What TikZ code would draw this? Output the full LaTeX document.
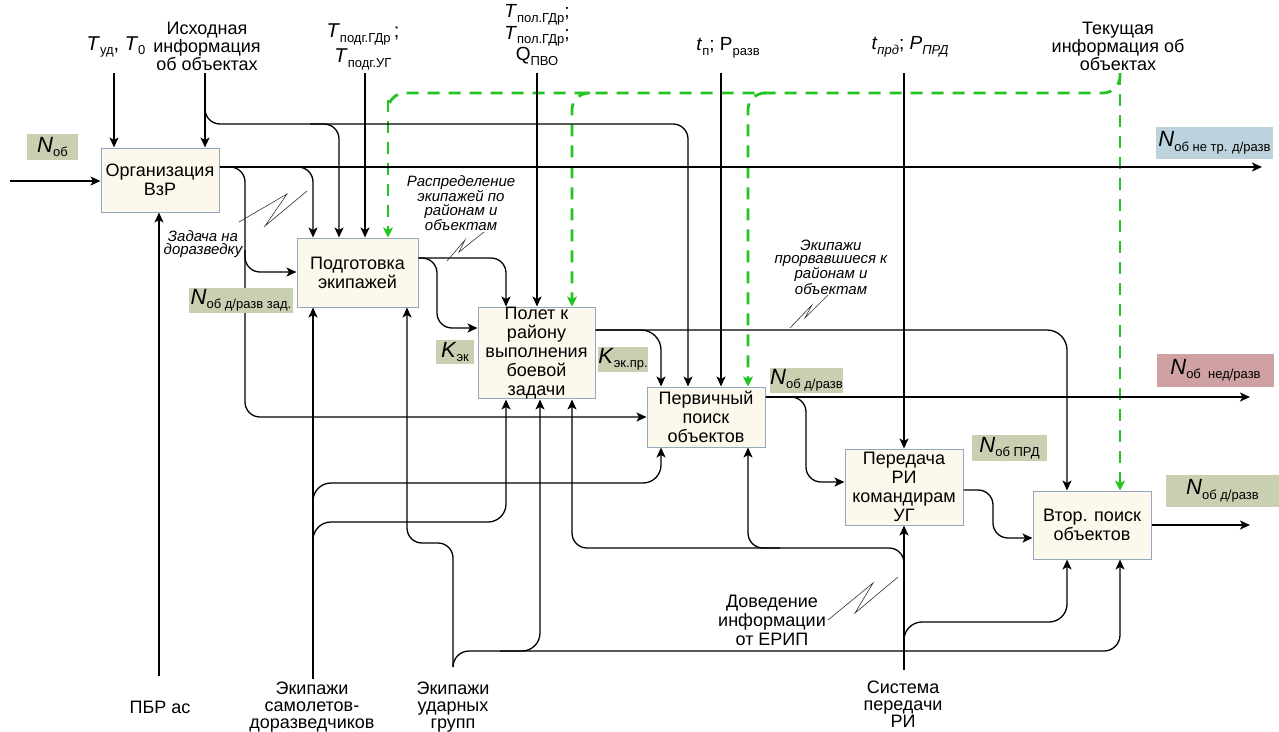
\documentclass[tikz,border=0pt]{standalone}
\usepackage{fontspec}
\setmainfont{Liberation Sans}
\usetikzlibrary{arrows.meta}
\definecolor{boxfill}{HTML}{FCF8EB}
\definecolor{boxline}{HTML}{93A7BD}
\definecolor{labg}{HTML}{C9CFB1}
\definecolor{labb}{HTML}{BCD3DD}
\definecolor{labp}{HTML}{CFA1A3}
\definecolor{grn}{HTML}{22C422}
\newcommand\lsub[1]{\raisebox{-4.5pt}{\fontsize{13}{13}\selectfont #1}}
\tikzset{
  box/.style={draw=boxline, fill=boxfill, line width=1pt, inner sep=0pt, align=center, font=\fontsize{18}{19}\selectfont},
  txt/.style={inner sep=0pt, align=center, font=\fontsize{18}{18}\selectfont},
  itl/.style={inner sep=0pt, align=center, font=\fontsize{15}{13.5}\selectfont\itshape},
  vl/.style={inner sep=0pt, font=\fontsize{22}{22}\selectfont},
  arr/.style={line width=1.3pt, -{Stealth[length=10pt,width=9pt,inset=2.5pt]}},
  rc/.style={rounded corners=15pt},
  gdash/.style={draw=grn, line width=2.8pt, dash pattern=on 12pt off 9pt, rounded corners=17pt, -{Stealth[length=10pt,width=10pt,inset=2.5pt,fill=grn]}},
  gline/.style={draw=grn, line width=2.8pt, dash pattern=on 12pt off 9pt, rounded corners=17pt},
  zig/.style={line width=0.6pt, draw=black!80}
}
\begin{document}
\begin{tikzpicture}[x=1pt,y=-1pt]
\useasboundingbox (0,0) rectangle (1279,731);
\fill[white] (0,0) rectangle (1279,731);

% free end coordinates
\coordinate (tud) at (114,73);
\coordinate (isx) at (205,73);
\coordinate (tpodg) at (365,73);
\coordinate (qpvo) at (537,73);
\coordinate (tp) at (721,73);
\coordinate (tprd) at (904,73);
\coordinate (tek) at (1120,73);
\coordinate (in0) at (10,181);
\coordinate (out1) at (1262,167);
\coordinate (out2) at (1250,397);
\coordinate (out3) at (1250,525);
\coordinate (pbr) at (159,676);
\coordinate (eks) at (313,679);
\coordinate (eku) at (453,667);
\coordinate (sys) at (904,670);

% boxes
\node[box, minimum width=118pt, minimum height=64pt] (ORG) at (160,180) {Организация\\ВзР};
\node[box, minimum width=121pt, minimum height=69pt] (PODG) at (357.5,272.5) {Подготовка\\экипажей};
\node[box, minimum width=117pt, minimum height=90pt] (POLET) at (536.5,353) {Полет к\\району\\выполнения\\боевой\\задачи};
\node[box, minimum width=118pt, minimum height=60pt] (PERV) at (706,417) {Первичный\\поиск\\объектов};
\node[box, minimum width=118pt, minimum height=76pt] (PERED) at (904,487) {Передача\\РИ\\командирам\\УГ};
\node[box, minimum width=118pt, minimum height=68pt] (VTOR) at (1092,525) {Втор. поиск\\объектов};

% green dashed (current information)
\draw[gline] (tek) -- (1120,93) -- (388,93) -- (388,110);
\draw[gdash] (388,100) -- (388,0 |- PODG.north);
\draw[gdash] (tek) -- (tek |- VTOR.north);
\draw[gdash] (590,93) -- (572,93) -- (572,0 |- POLET.north);
\draw[gdash] (766,93) -- (748,93) -- (748,0 |- PERV.north);

% inputs / controls to ORG
\draw[arr] (in0) -- (ORG.west |- in0);
\draw[arr] (tud) -- (tud |- ORG.north);
\draw[arr] (isx) -- (isx |- ORG.north);
\draw[arr,rc] (isx) -- (205,124) -- (688,124) -- (688,0 |- PERV.north);
\draw[arr,rc] (310,124) -- (339,124) -- (339,0 |- PODG.north);

% ORG output
\draw[arr] (ORG.east |- out1) -- (out1);
\draw[arr,rc] (285,167) -- (313,167) -- (313,0 |- PODG.north);
\draw[arr,rc] (ORG.east |- out1) -- (245,167) -- (245,417) -- (PERV.west |- 0,417);
\draw[arr,rc] (245,250) -- (245,272) -- (PODG.west |- 0,272);
\draw[arr] (tpodg) -- (tpodg |- PODG.north);

% PODG output
\draw[arr,rc] (PODG.east |- 0,258) -- (506,258) -- (506,0 |- POLET.north);
\draw[arr,rc] (PODG.east |- 0,258) -- (437,258) -- (437,328) -- (POLET.west |- 0,328);
\draw[arr] (qpvo) -- (qpvo |- POLET.north);

% POLET output
\draw[arr,rounded corners=20pt] (POLET.east |- 0,330) -- (1067,330) -- (1067,0 |- VTOR.north);
\draw[arr,rounded corners=20pt] (POLET.east |- 0,330) -- (661,330) -- (661,0 |- PERV.north);
\draw[arr] (tp) -- (tp |- PERV.north);

% PERV output
\draw[arr] (PERV.east |- out2) -- (out2);
\draw[arr,rc] (PERV.east |- out2) -- (806,397) -- (806,482) -- (PERED.west |- 0,482);
\draw[arr] (tprd) -- (tprd |- PERED.north);

% PERED output
\draw[arr,rc] (PERED.east |- 0,490) -- (993,490) -- (993,538) -- (VTOR.west |- 0,538);
\draw[arr] (VTOR.east |- out3) -- (out3);

% mechanisms
\draw[arr] (pbr) -- (pbr |- ORG.south);
\draw[arr] (eks) -- (eks |- PODG.south);
\draw[arr,rounded corners=18pt] (313,505) -- (313,483) -- (661,483) -- (661,0 |- PERV.south);
\draw[arr,rounded corners=18pt] (313,543) -- (313,522) -- (506,522) -- (506,0 |- POLET.south);
\draw[arr,rc] (eku) -- (453,543) -- (407,543) -- (407,0 |- PODG.south);
\draw[arr,rounded corners=16pt] (eku) -- (453,651) -- (1120,651) -- (1120,0 |- VTOR.south);
\draw[arr,rounded corners=18pt] (500,651) -- (540,651) -- (540,0 |- POLET.south);
\draw[arr] (sys) -- (sys |- PERED.south);
\draw[arr,rc] (904,575) -- (904,548) -- (572,548) -- (572,0 |- POLET.south);
\draw[arr,rc] (780,548) -- (748,548) -- (748,0 |- PERV.south);
\draw[arr,rounded corners=18pt] (904,645) -- (904,622) -- (1067,622) -- (1067,0 |- VTOR.south);

% squiggles
\draw[zig] (239,222) -- (287,194) -- (265,226) -- (307,191);
\draw[zig] (447,261) -- (465,240) -- (459,252) -- (484,232);
\draw[zig] (790,328) -- (812,305) -- (805,318) -- (828,295);
\draw[zig] (828,620) -- (873,583) -- (855,613) -- (898,577);

% top labels
\node[txt] (Ltud) at (116,47) {\fontsize{20}{20}\selectfont\textit{T}\lsub{уд}, \textit{T}\lsub{0}};
\node[txt] (Lisx) at (207,46) {Исходная\\информация\\об объектах};
\node[txt, font=\fontsize{20}{25}\selectfont] (Ltpodg) at (363,47) {\textit{T}\lsub{подг.ГДр}\,;\\\textit{T}\lsub{подг.УГ}};
\node[txt, font=\fontsize{19}{19}\selectfont] (Lqpvo) at (537,35) {\textit{T}\lsub{пол.ГДр};\\\textit{T}\lsub{пол.ГДр};\\Q\lsub{ПВО}};
\node[txt, font=\fontsize{19}{19}\selectfont] (Ltp) at (728,48) {\textit{t}\lsub{п}; P\lsub{разв}};
\node[txt, font=\fontsize{19}{19}\selectfont] (Ltprd) at (910,47) {\textit{t}\lsub{\itshape прд}; \textit{P}\lsub{\itshape ПРД}};
\node[txt] (Ltek) at (1118,46) {Текущая\\информация об\\объектах};

% bottom labels
\node[txt] (Lpbr) at (160,707) {ПБР ас};
\node[txt, font=\fontsize{18}{17}\selectfont, anchor=north] (Leks) at (312,682) {Экипажи\\самолетов-\\доразведчиков};
\node[txt, font=\fontsize{18}{17}\selectfont] (Leku) at (453,707) {Экипажи\\ударных\\групп};
\node[txt, font=\fontsize{18}{17}\selectfont] (Lsys) at (903,704) {Система\\передачи\\РИ};
\node[txt, font=\fontsize{18}{19}\selectfont] (Lerip) at (772,620) {Доведение\\информации\\от ЕРИП};

% italic labels
\node[itl] (Lzad) at (203,244) {Задача на\\доразведку};
\node[itl] (Lras) at (461,203) {Распределение\\экипажей по\\районам и\\объектам};
\node[itl] (Lpro) at (831,267) {Экипажи\\прорвавшиеся к\\районам и\\объектам};

% value labels
\node[vl, fill=labg, minimum width=51pt, minimum height=26pt] (V1) at (52.5,147) {\textit{N}\lsub{об}};
\node[vl, fill=labg, minimum width=104pt, minimum height=25pt] (V2) at (241,300.5) {\textit{N}\lsub{об д/разв зад.}};
\node[vl, fill=labg, minimum width=38pt, minimum height=24pt] (V3) at (455,352) {\textit{K}\lsub{эк}};
\node[vl, fill=labg, minimum width=50pt, minimum height=25pt] (V4) at (623,359.5) {\textit{K}\lsub{эк.пр.}};
\node[vl, fill=labg, minimum width=73pt, minimum height=25pt] (V5) at (806.5,380.5) {\textit{N}\lsub{об д/разв}};
\node[vl, fill=labg, minimum width=75pt, minimum height=26pt] (V6) at (1009.5,448) {\textit{N}\lsub{об ПРД}};
\node[vl, fill=labg, minimum width=113pt, minimum height=32pt] (V7) at (1222.5,491) {\textit{N}\lsub{об д/разв}};
\node[vl, fill=labb, minimum width=117pt, minimum height=32pt] (V8) at (1214.5,143) {\textit{N}\lsub{об не тр. д/разв}};
\node[vl, fill=labp, minimum width=117pt, minimum height=33pt] (V9) at (1215.5,370.5) {\textit{N}\lsub{об\ \ нед/разв}};
\end{tikzpicture}
\end{document}
